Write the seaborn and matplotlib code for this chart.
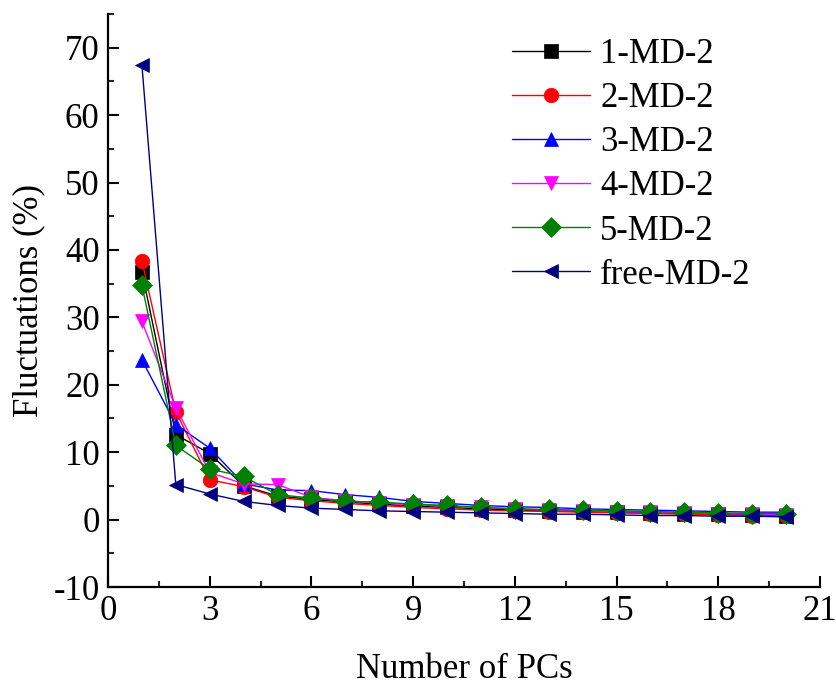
import numpy as np
import pandas as pd
import matplotlib
matplotlib.use("Agg")
import matplotlib.pyplot as plt
import seaborn as sns
from matplotlib.ticker import MultipleLocator

# Principal-component index
pcs = list(range(1, 21))

# Fluctuation (%) carried by each principal component
md1 = [36.8, 12.6, 9.8, 5.0, 3.5, 3.0, 2.6, 2.3, 2.0, 1.8, 1.6, 1.4, 1.3, 1.2, 1.1, 1.0, 0.9, 0.8, 0.7, 0.6]
md2 = [38.4, 16.0, 5.9, 4.9, 3.3, 2.8, 2.4, 2.1, 1.8, 1.6, 1.4, 1.3, 1.2, 1.1, 1.0, 0.9, 0.8, 0.7, 0.6, 0.5]
md3 = [23.7, 14.1, 10.6, 5.3, 4.4, 4.3, 3.7, 3.3, 2.7, 2.4, 2.1, 1.9, 1.8, 1.6, 1.5, 1.4, 1.3, 1.2, 1.1, 1.1]
md4 = [29.4, 16.6, 7.0, 5.3, 5.2, 3.3, 2.8, 2.5, 2.2, 2.0, 1.8, 1.6, 1.4, 1.3, 1.2, 1.1, 1.0, 0.9, 0.8, 0.7]
md5 = [34.8, 11.0, 7.5, 6.4, 3.7, 3.2, 2.7, 2.6, 2.3, 2.1, 1.8, 1.6, 1.5, 1.4, 1.3, 1.2, 1.1, 1.0, 0.9, 0.9]
free = [67.5, 5.2, 3.8, 2.7, 2.1, 1.7, 1.5, 1.3, 1.2, 1.1, 1.0, 0.9, 0.8, 0.8, 0.7, 0.6, 0.6, 0.5, 0.5, 0.4]

series_names = ["1-MD-2", "2-MD-2", "3-MD-2", "4-MD-2", "5-MD-2", "free-MD-2"]
series_values = [md1, md2, md3, md4, md5, free]
colors = ["#000000", "#ff0000", "#0000ff", "#ff00ff", "#008000", "#000080"]
markers = ["s", "o", "^", "v", "D", "<"]

df = pd.DataFrame({
    "PC": np.tile(pcs, len(series_names)),
    "value": np.concatenate(series_values),
    "series": np.repeat(series_names, len(pcs)),
})

sns.set_theme(style="white")
plt.rcParams["font.family"] = ["Liberation Serif", "DejaVu Serif"]
plt.rcParams["axes.unicode_minus"] = False
plt.rcParams["text.color"] = "black"
plt.rcParams["axes.labelcolor"] = "black"

FS = 25

fig = plt.figure(figsize=(8.37, 6.86), dpi=100)
ax = fig.add_axes([0.129, 0.1443, 0.8507, 0.8353])

sns.lineplot(
    data=df, x="PC", y="value", hue="series", style="series",
    hue_order=series_names, style_order=series_names,
    palette=colors, markers=markers, dashes=False,
    markersize=10.5, linewidth=1.0, ax=ax, legend=False,
)

for line, c in zip(ax.lines, colors):
    line.set_markeredgecolor(c)
    line.set_markerfacecolor(c)
    line.set_markeredgewidth(0.5)

ax.set_xlim(0, 21)
ax.set_ylim(-10, 75)
ax.xaxis.set_major_locator(MultipleLocator(3))
ax.xaxis.set_minor_locator(MultipleLocator(1.5))
ax.yaxis.set_minor_locator(MultipleLocator(5))
ax.set_yticks([-10, 0, 10, 20, 30, 40, 50, 60, 70])

for side in ["top", "right"]:
    ax.spines[side].set_visible(False)
for side in ["left", "bottom"]:
    ax.spines[side].set_linewidth(1.6)
    ax.spines[side].set_color("black")

ax.tick_params(which="major", direction="in", length=8, width=1.5,
               labelsize=FS, colors="black", pad=6)
ax.tick_params(which="minor", direction="in", length=4.5, width=1.5)
ax.tick_params(axis="both", which="both", bottom=True, left=True)

ax.set_xlabel("Number of PCs", fontsize=FS, labelpad=18, color="black")
ax.set_ylabel("Fluctuations (%)", fontsize=FS, labelpad=6, color="black")

handles = list(ax.lines)
ax.legend(handles, series_names, loc="upper left",
          bbox_to_anchor=(0.567, 0.958), frameon=False, fontsize=FS,
          handlelength=2.25, labelspacing=0.32, borderaxespad=0,
          borderpad=0, handletextpad=0.3, labelcolor="black")

fig.savefig("out.png", dpi=100)
